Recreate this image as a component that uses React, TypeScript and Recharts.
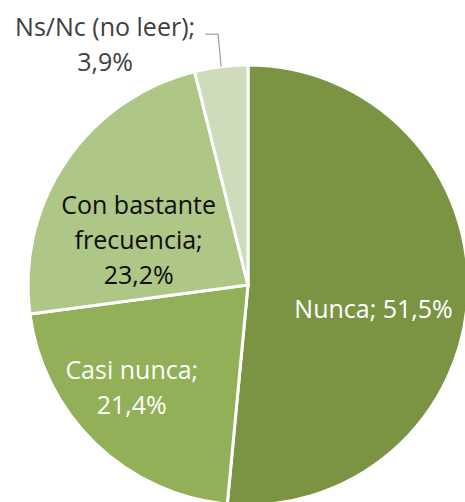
import React from "react";
import { PieChart, Pie, Cell } from "recharts";

const categories = ["Nunca", "Casi nunca", "Con bastante frecuencia", "Ns/Nc (no leer)"];
const values = [51.5, 21.4, 23.2, 3.9];
const valueLabels = ["51,5%", "21,4%", "23,2%", "3,9%"];
const colors = ["#7A9444", "#92B057", "#AEC686", "#CFDCBB"];

const data = categories.map((name, i) => ({ name, value: values[i], label: valueLabels[i] }));

const FONT = "'Open Sans', 'Noto Sans', sans-serif";
const FS = 25;
const LH = 35;

// label placement: angle (deg, math convention), distance as fraction of outer radius, text lines, color
const placement = [
  { ang: -10.3, dist: 0.58, color: "#FFFFFF", lines: (n: string, v: string) => [`${n}; ${v}`] },
  { ang: -139, dist: 0.7, color: "#FFFFFF", lines: (n: string, v: string) => [`${n};`, v] },
  { ang: 157, dist: 0.54, color: "#0D0D0D", lines: () => ["Con bastante", "frecuencia;", "23,2%"] },
  { ang: 0, dist: 0, color: "#404040", lines: (n: string, v: string) => [`${n};`, v] },
];

const renderLabel = (props: any) => {
  const { cx, cy, midAngle, outerRadius, index, payload } = props;
  const p = placement[index];
  const name = payload?.name ?? categories[index];
  const v = payload?.label ?? valueLabels[index];
  const lines = p.lines(name, v);
  const RAD = Math.PI / 180;
  if (index === 3) {
    const ex = cx + outerRadius * Math.cos(midAngle * RAD);
    const ey = cy - outerRadius * Math.sin(midAngle * RAD);
    const ty = cy - outerRadius * 1.14;
    const lx = ex - 3;
    const hx = lx - 13;
    const tx = hx - 100;
    return (
      <g>
        <polyline points={`${ex},${ey} ${lx},${ty} ${hx},${ty}`} fill="none" stroke="#A6A6A6" strokeWidth={1.3} />
        <text x={tx} y={ty - 8} textAnchor="middle" dominantBaseline="central" fill={p.color} fontFamily={FONT} fontSize={FS}>
          {lines.map((l: string, i: number) => (
            <tspan key={i} x={tx} dy={i === 0 ? 0 : LH}>{l}</tspan>
          ))}
        </text>
      </g>
    );
  }
  const x = cx + outerRadius * p.dist * Math.cos(p.ang * RAD);
  const y = cy - outerRadius * p.dist * Math.sin(p.ang * RAD);
  const y0 = y - ((lines.length - 1) * LH) / 2;
  return (
    <text x={x} y={y0} textAnchor="middle" dominantBaseline="central" fill={p.color} fontFamily={FONT} fontSize={FS}>
      {lines.map((l: string, i: number) => (
        <tspan key={i} x={x} dy={i === 0 ? 0 : LH}>{l}</tspan>
      ))}
    </text>
  );
};

export default function App() {
  return (
    <div style={{ position: "absolute", left: 0, top: 0, width: 465, height: 502, overflow: "hidden", background: "#fff" }}>
      <PieChart width={465} height={502} margin={{ top: 0, right: 0, bottom: 0, left: 0 }}>
        <Pie
          data={data}
          dataKey="value"
          nameKey="name"
          cx={248}
          cy={285}
          outerRadius={220}
          startAngle={90}
          endAngle={-270}
          stroke="#FFFFFF"
          strokeWidth={3}
          label={renderLabel}
          labelLine={false}
          isAnimationActive={false}
        >
          {data.map((d, i) => (
            <Cell key={d.name} fill={colors[i]} />
          ))}
        </Pie>
      </PieChart>
    </div>
  );
}
